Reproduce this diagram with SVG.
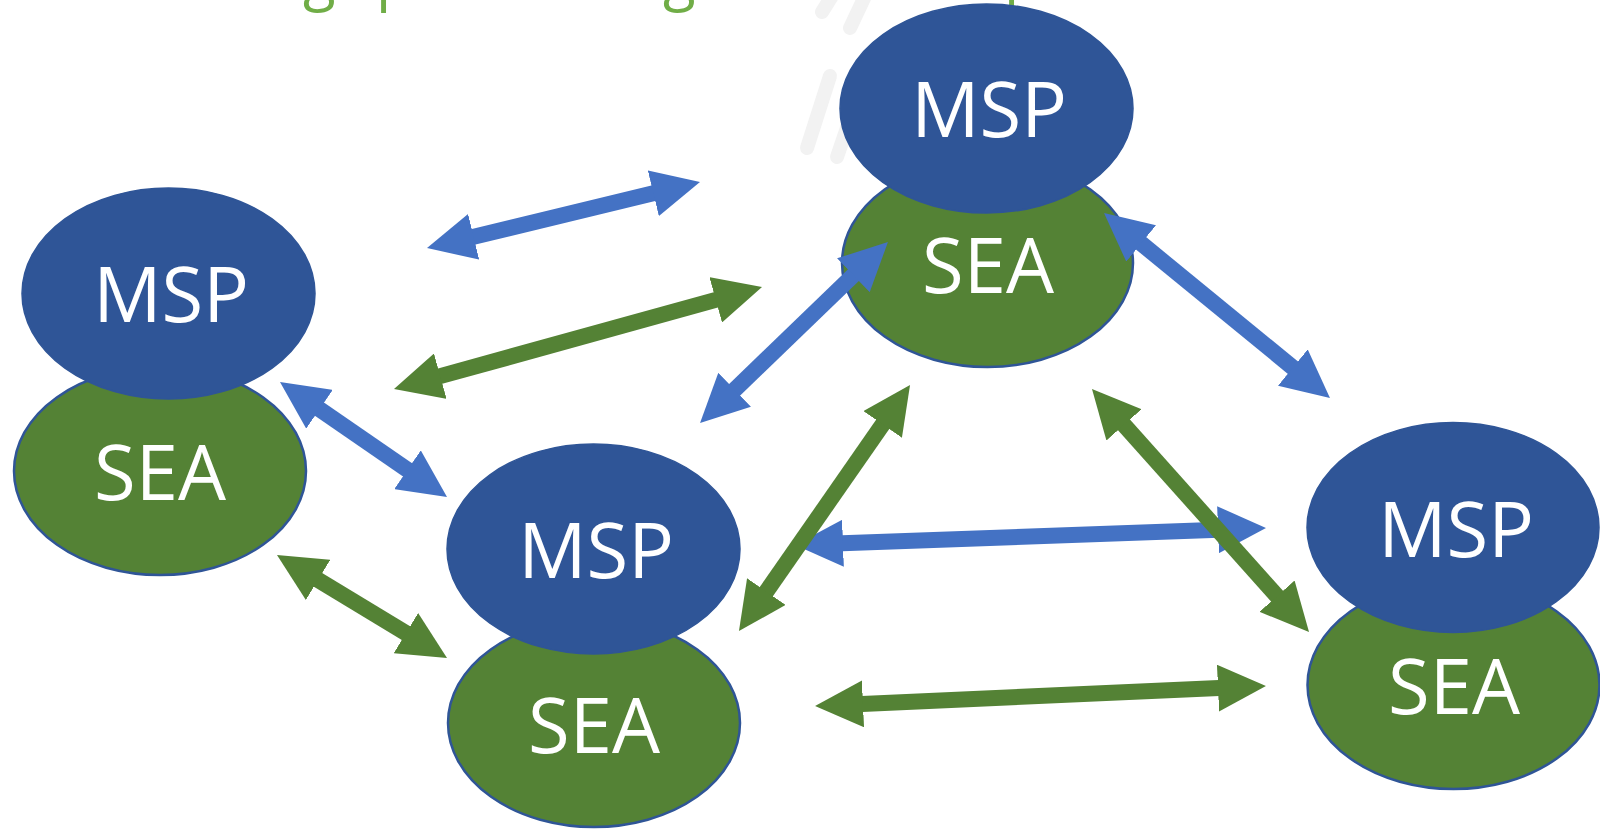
<svg xmlns="http://www.w3.org/2000/svg" width="1600" height="831" viewBox="0 0 1600 831">
  <defs>
    <style>
      .msp { fill: #2f5597; stroke: #2f5597; stroke-width: 1.5; }
      .sea { fill: #548235; stroke: #2f5597; stroke-width: 2.5; }
      .label { font-family: "Open Sans", "Liberation Sans", sans-serif; font-size: 76px; fill: #ffffff; text-anchor: middle; }
      .title { font-family: "Open Sans", "Liberation Sans", sans-serif; font-size: 60px; fill: #70ad47; }
      .deco { stroke: #f2f2f2; stroke-width: 14; stroke-linecap: round; fill: none; }
      .link { fill: none; stroke-width: 16; stroke-linecap: butt; }
      .blue { stroke: #4472c4; marker-start: url(#head-blue); marker-end: url(#head-blue); }
      .green { stroke: #548235; marker-start: url(#head-green); marker-end: url(#head-green); }
    </style>
    <marker id="head-blue" viewBox="0 -23.5 48 47" markerWidth="48" markerHeight="47" refX="1" refY="0" markerUnits="userSpaceOnUse" orient="auto-start-reverse">
      <path d="M0,-23.5 L48,0 L0,23.5 Z" fill="#4472c4"/>
    </marker>
    <marker id="head-green" viewBox="0 -23.5 48 47" markerWidth="48" markerHeight="47" refX="1" refY="0" markerUnits="userSpaceOnUse" orient="auto-start-reverse">
      <path d="M0,-23.5 L48,0 L0,23.5 Z" fill="#548235"/>
    </marker>
  </defs>

  <rect width="1600" height="831" fill="#ffffff"/>

  <!-- heading line running off the top edge (only descenders remain in view) -->
  <g id="heading">
    <text class="title" x="303" y="-1">g</text>
    <text class="title" x="376" y="-1">p</text>
    <text class="title" x="663" y="-1">g</text>
    <text class="title" x="1004" y="-1">p</text>
  </g>

  <!-- faint slanted template strokes -->
  <g id="decoration">
    <line class="deco" x1="832" y1="-4" x2="822" y2="12"/>
    <line class="deco" x1="866" y1="-6" x2="850" y2="28"/>
    <line class="deco" x1="830" y1="76" x2="807" y2="148"/>
    <line class="deco" x1="866" y1="72" x2="837" y2="157"/>
  </g>

  <!-- west pair -->
  <g id="sea-west">
    <ellipse class="sea" cx="160" cy="471" rx="146" ry="104"/>
    <text class="label" x="160" y="500">SEA</text>
  </g>
  <g id="msp-west">
    <ellipse class="msp" cx="168.5" cy="293.5" rx="146.5" ry="105.5"/>
    <text class="label" x="171" y="322">MSP</text>
  </g>

  <!-- centre pair -->
  <g id="sea-centre">
    <ellipse class="sea" cx="594" cy="723" rx="146" ry="104"/>
    <text class="label" x="594" y="753">SEA</text>
  </g>
  <g id="msp-centre">
    <ellipse class="msp" cx="593.5" cy="549" rx="146.5" ry="105"/>
    <text class="label" x="596" y="578">MSP</text>
  </g>

  <!-- north pair -->
  <g id="sea-north">
    <ellipse class="sea" cx="987.5" cy="263" rx="145.5" ry="104"/>
    <text class="label" x="988" y="293">SEA</text>
  </g>
  <g id="msp-north">
    <ellipse class="msp" cx="986.5" cy="108.5" rx="146.5" ry="104.5"/>
    <text class="label" x="989" y="137">MSP</text>
  </g>

  <!-- east pair -->
  <g id="sea-east">
    <ellipse class="sea" cx="1453.5" cy="685" rx="146" ry="104"/>
    <text class="label" x="1454" y="714">SEA</text>
  </g>
  <g id="msp-east">
    <ellipse class="msp" cx="1453" cy="527.5" rx="146" ry="105"/>
    <text class="label" x="1456" y="557">MSP</text>
  </g>

  <!-- two-way links -->
  <g id="connectors">
    <line class="link blue" x1="472.7" y1="237.0" x2="654.3" y2="193.0"/>
    <line class="link green" x1="439.3" y1="376.4" x2="716.7" y2="299.6"/>
    <line class="link blue" x1="733.9" y1="390.4" x2="854.1" y2="274.6"/>
    <line class="link blue" x1="1140.4" y1="242.8" x2="1293.6" y2="368.2"/>
    <line class="link blue" x1="842" y1="543.3" x2="1219" y2="529.7"/>
    <line class="link green" x1="1123.3" y1="424.1" x2="1277.7" y2="596.9"/>
    <line class="link green" x1="765.8" y1="592.4" x2="883.2" y2="423.6"/>
    <line class="link green" x1="862" y1="703.9" x2="1219" y2="688.1"/>
    <line class="link blue" x1="318.7" y1="408.7" x2="408.3" y2="470.3"/>
    <line class="link green" x1="317.2" y1="579.4" x2="406.8" y2="633.6"/>
  </g>
</svg>
